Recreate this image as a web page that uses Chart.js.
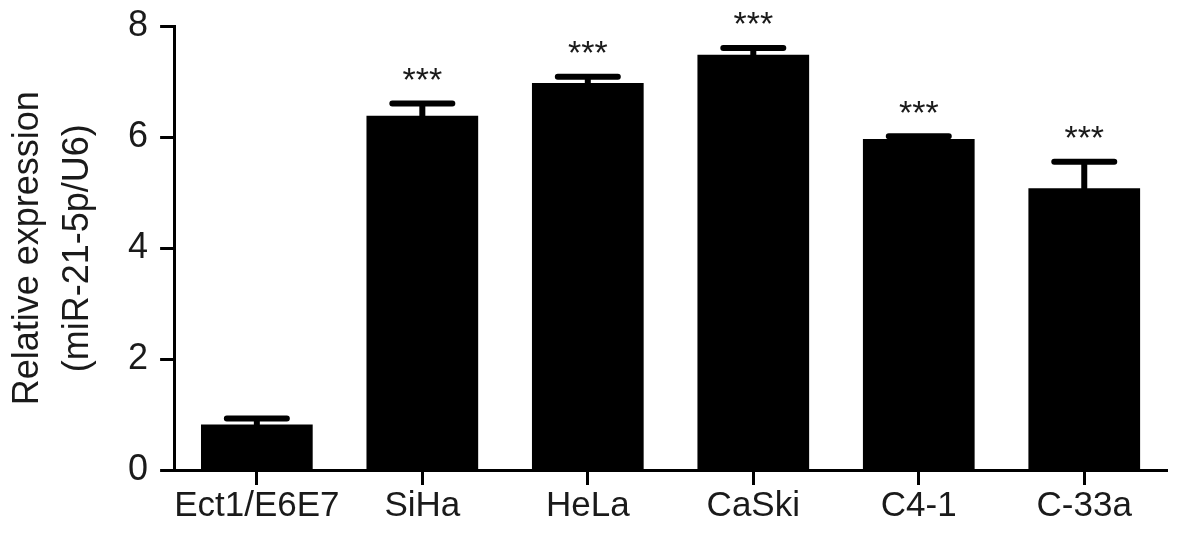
<!DOCTYPE html>
<html>
<head>
<meta charset="utf-8">
<script src="https://cdn.jsdelivr.net/npm/chart.js@4/dist/chart.umd.min.js"></script>
<style>
  html, body { margin: 0; padding: 0; background: #fff; }
  #wrap { width: 1181px; height: 537px; }
</style>
</head>
<body>
<div id="wrap"><canvas id="expressionChart" width="1181" height="537"></canvas></div>
<script>
// values
const cellLines = ["Ect1/E6E7", "SiHa", "HeLa", "CaSki", "C4-1", "C-33a"];
const meanExpression = [0.82, 6.39, 6.98, 7.49, 5.97, 5.08];
const errorSD = [0.11, 0.22, 0.11, 0.12, 0.05, 0.48];
const significance = ["", "***", "***", "***", "***", "***"];
const yTicks = [0, 2, 4, 6, 8];

const fontFamily = "'Liberation Sans', Arial, sans-serif";

// error bars (upper half only) and significance stars
const errorBarPlugin = {
  id: "errorBars",
  afterDatasetsDraw(chart) {
    const ctx = chart.ctx;
    const yScale = chart.scales.y;
    const meta = chart.getDatasetMeta(0);
    ctx.save();
    meta.data.forEach((bar, i) => {
      const x = bar.x;
      const yTop = yScale.getPixelForValue(meanExpression[i]);
      const yErr = yScale.getPixelForValue(meanExpression[i] + errorSD[i]);
      const capHalf = 30;
      ctx.strokeStyle = "#000";
      ctx.lineWidth = 6;
      ctx.lineCap = "round";
      ctx.beginPath();
      ctx.moveTo(x, yTop);
      ctx.lineTo(x, yErr);
      ctx.moveTo(x - capHalf, yErr);
      ctx.lineTo(x + capHalf, yErr);
      ctx.stroke();
      if (significance[i]) {
        ctx.fillStyle = "#1a1a1a";
        ctx.font = "34px " + fontFamily;
        ctx.textAlign = "center";
        ctx.textBaseline = "middle";
        ctx.fillText(significance[i], x, yErr - 22);
      }
    });
    ctx.restore();
  },
};

new Chart(document.getElementById("expressionChart").getContext("2d"), {
  type: "bar",
  data: {
    labels: cellLines,
    datasets: [
      {
        label: "Relative expression",
        data: meanExpression,
        backgroundColor: "#000",
        borderWidth: 0,
        barPercentage: 0.675,
        categoryPercentage: 1.0,
      },
    ],
  },
  options: {
    responsive: false,
    animation: false,
    layout: { padding: { top: 0, right: 14, bottom: 10, left: 3 } },
    plugins: {
      legend: { display: false },
      tooltip: { enabled: false },
    },
    scales: {
      x: {
        grid: {
          display: true,
          offset: false,
          drawOnChartArea: false,
          drawTicks: true,
          tickLength: 15,
          tickWidth: 3,
          tickColor: "#000",
        },
        border: { display: true, color: "#000", width: 3 },
        ticks: {
          color: "#1a1a1a",
          font: { family: fontFamily, size: 35 },
          padding: 0,
          maxRotation: 0,
          autoSkip: false,
        },
      },
      y: {
        min: 0,
        max: 8,
        afterBuildTicks: (axis) => {
          axis.ticks = yTicks.map((v) => ({ value: v }));
        },
        grid: {
          display: true,
          drawOnChartArea: false,
          drawTicks: true,
          tickLength: 14,
          tickWidth: 3,
          tickColor: "#000",
        },
        border: { display: true, color: "#000", width: 3 },
        ticks: {
          color: "#1a1a1a",
          font: { family: fontFamily, size: 36, lineHeight: 0.8 },
          padding: 12,
        },
        title: {
          display: true,
          text: ["Relative expression", "(miR-21-5p/U6)"],
          color: "#1a1a1a",
          font: { family: fontFamily, size: 36, lineHeight: 1.39 },
          padding: { top: 0, bottom: 13 },
        },
      },
    },
  },
  plugins: [errorBarPlugin],
});
</script>
</body>
</html>
